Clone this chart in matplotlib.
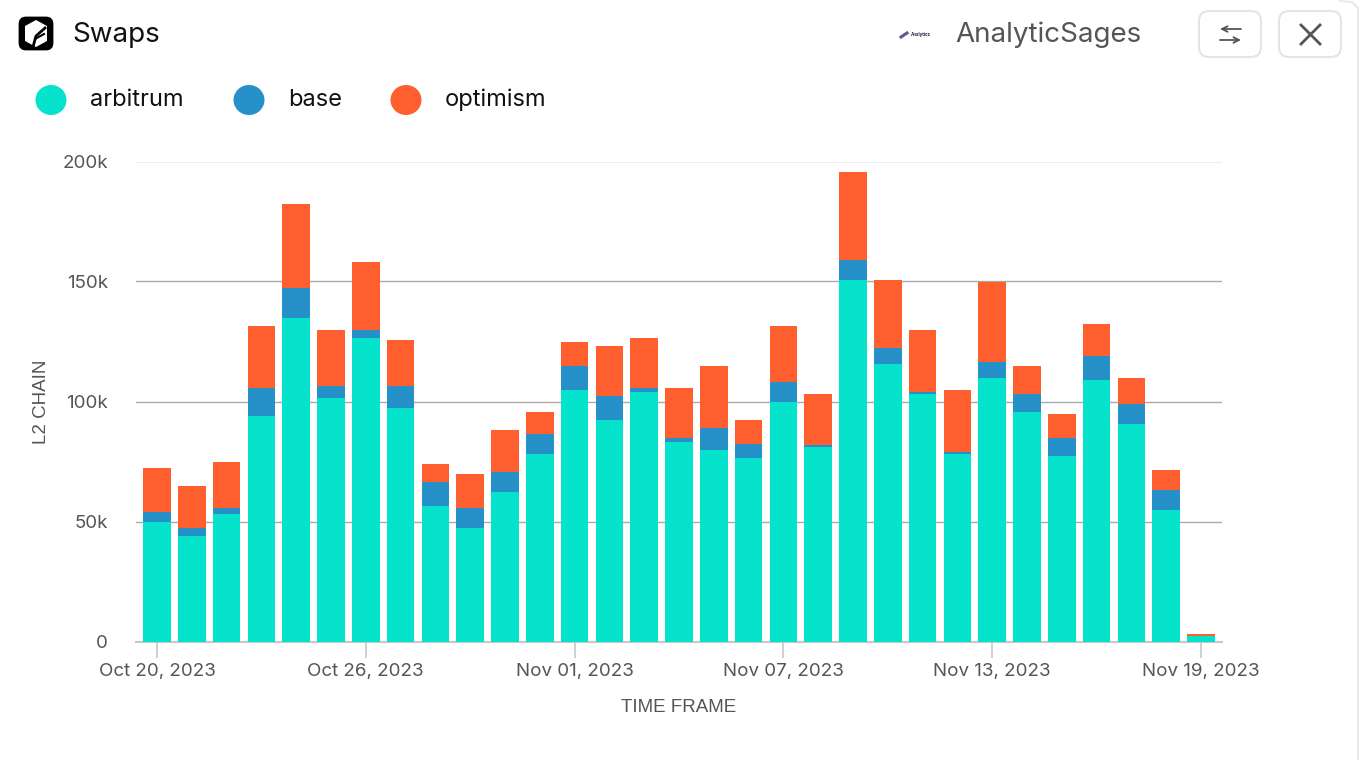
#!/usr/bin/env python3
import matplotlib
matplotlib.use("Agg")
import matplotlib.dates as mdates
import matplotlib.pyplot as plt
import numpy as np
import pandas as pd
from matplotlib.patches import Ellipse, FancyBboxPatch, Polygon

W, H = 1362, 760

dates = pd.date_range("2023-10-20", "2023-11-19", freq="D")

arbitrum = [49.8, 44.0, 53.1, 94.0, 134.8, 101.5, 126.5, 97.3, 56.5, 47.3, 62.3,
            78.1, 104.8, 92.3, 104.0, 83.1, 79.8, 76.5, 99.8, 81.0, 150.6,
            115.6, 103.1, 78.1, 109.8, 95.6, 77.3, 109.0, 90.6, 54.8, 2.4]
base = [4.2, 3.3, 2.5, 11.6, 12.5, 5.0, 3.3, 9.2, 10.0, 8.3, 8.3,
        8.4, 10.0, 10.0, 1.6, 1.7, 9.2, 5.8, 8.3, 0.9, 8.4,
        6.7, 0.9, 0.9, 6.7, 7.5, 7.5, 10.0, 8.4, 8.3, 0.1]
optimism = [18.3, 17.5, 19.2, 25.9, 35.0, 23.3, 28.3, 19.1, 7.5, 14.2, 17.5,
            9.1, 10.0, 20.8, 20.9, 20.8, 25.8, 10.0, 23.4, 21.2, 36.6,
            28.3, 25.8, 25.8, 33.3, 11.7, 10.0, 13.3, 10.8, 8.4, 0.6]

series_names = ["arbitrum", "base", "optimism"]
series_colors = ["#06e3cc", "#2690c8", "#ff5e2e"]
y_ticks = [0, 50000, 100000, 150000, 200000]
y_tick_labels = ["0", "50k", "100k", "150k", "200k"]

TEXT_DARK = "#111111"
TEXT_GREY = "#555555"
plt.rcParams["font.family"] = ["Inter", "DejaVu Sans"]


def px_rect(left, top, right, bottom):
    return [left / W, 1 - bottom / H, (right - left) / W, (bottom - top) / H]


fig = plt.figure(figsize=(W / 100, H / 100), dpi=100, facecolor="white")

# the chart itself
ax = fig.add_axes(px_rect(136, 161.5, 1222, 641.5))
x = mdates.date2num(dates)
a = np.array(arbitrum) * 1000
b = np.array(base) * 1000
o = np.array(optimism) * 1000
bottom = np.zeros(len(x))
for vals, col in zip([a, b, o], series_colors):
    ax.bar(x, vals, width=0.79, bottom=bottom, color=col, linewidth=0, zorder=3)
    bottom = bottom + vals

ax.set_xlim(x[0] - 0.603, x[0] + 30.603)
ax.set_ylim(0, 200000)
ax.set_yticks(y_ticks, y_tick_labels)
ax.set_xticks(x[::6], [d.strftime("%b %d, %Y") for d in dates[::6]])
ax.grid(axis="y", color="#aaaaaa", linewidth=1.0, zorder=1)
ax.set_axisbelow(True)
for side in ["top", "right", "left"]:
    ax.spines[side].set_visible(False)
ax.spines["bottom"].set_color("#c8c8c8")
ax.spines["bottom"].set_linewidth(1.5)
ax.tick_params(axis="y", length=0, pad=20, labelsize=13.5, labelcolor=TEXT_GREY)
ax.tick_params(axis="x", length=11.5, width=1.2, color="#c8c8c8", pad=4,
               labelsize=13.5, labelcolor=TEXT_GREY)
ax.patch.set_alpha(0)

# header, legend and card border live in pixel coordinates
ui = fig.add_axes([0, 0, 1, 1], zorder=5)
ui.set_xlim(0, W)
ui.set_ylim(H, 0)
ui.axis("off")

ui.text(41, 402, "L2 CHAIN", rotation=90, ha="center", va="center",
        family="Liberation Sans", fontsize=13.5, color=TEXT_GREY)
ui.text(679, 707, "TIME FRAME", ha="center", va="center",
        family="Liberation Sans", fontsize=13.5, color=TEXT_GREY)

# card edge on the right
ui.plot([1340, 1352, 1358, 1358], [1, 2, 8, 760], color="#e9e9ef", lw=1.5)

# logo
ui.add_patch(FancyBboxPatch((20, 18), 32, 31, boxstyle="round,pad=0,rounding_size=6",
                            fc="black", ec="black", lw=2))
ui.add_patch(Polygon([(36, 20), (47, 26), (47, 41), (36, 47), (25, 41), (25, 26)],
                     closed=True, fc="white", ec="none"))
ui.plot([33, 36, 45], [47, 36, 28], color="black", lw=2)
ui.plot([35, 44], [39, 34], color="black", lw=1.5)
ui.text(72, 34.5, "Swaps", ha="left", va="center", fontsize=20, color=TEXT_DARK)

# author
ui.plot([901, 907], [37, 33], color="#5a5a88", lw=2.2)
ui.text(911, 34.5, "Analytics", ha="left", va="center", fontsize=3.2,
        color="#22224a", fontweight="bold")
ui.text(955, 34.5, "AnalyticSages", ha="left", va="center", fontsize=20, color="#555555")

# buttons
for left in [1199, 1279]:
    ui.add_patch(FancyBboxPatch((left, 11), 62, 46, boxstyle="round,pad=0,rounding_size=10",
                                fc="white", ec="#e3e3ea", lw=1.5))
ui.annotate("", xy=(1220, 29), xytext=(1241, 29),
            arrowprops=dict(arrowstyle="->", color="#555555", lw=1.3, shrinkA=0, shrinkB=0))
ui.annotate("", xy=(1241, 40), xytext=(1220, 40),
            arrowprops=dict(arrowstyle="->", color="#555555", lw=1.3, shrinkA=0, shrinkB=0))
ui.plot([1301, 1320], [25, 44], color="#555555", lw=2)
ui.plot([1301, 1320], [44, 25], color="#555555", lw=2)

# legend
for name, col, cx, tx in zip(series_names, series_colors, [51, 249, 406], [90, 288, 445]):
    ui.add_patch(Ellipse((cx, 100), 31, 30, fc=col, ec="none"))
    ui.text(tx, 100, name, ha="left", va="center", fontsize=17, color=TEXT_DARK)

fig.savefig("out.png", dpi=100)
